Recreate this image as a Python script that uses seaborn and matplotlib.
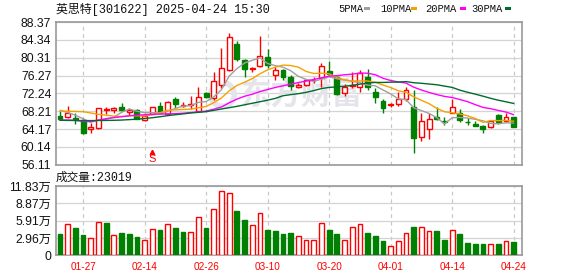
import numpy as np
import pandas as pd
import matplotlib
matplotlib.use("Agg")
import matplotlib.pyplot as plt
from matplotlib.patches import Rectangle
import seaborn as sns

# ---------------- data ----------------
dates = ["01-22", "01-23", "01-24", "01-27", "02-05", "02-06", "02-07", "02-10", "02-11", "02-12",
         "02-13", "02-14", "02-17", "02-18", "02-19", "02-20", "02-21", "02-24", "02-25", "02-26",
         "02-27", "02-28", "03-03", "03-04", "03-05", "03-06", "03-07", "03-10", "03-11", "03-12",
         "03-13", "03-14", "03-17", "03-18", "03-19", "03-20", "03-21", "03-24", "03-25", "03-26",
         "03-27", "03-28", "03-31", "04-01", "04-02", "04-03", "04-07", "04-08", "04-09", "04-10",
         "04-11", "04-14", "04-15", "04-16", "04-17", "04-18", "04-21", "04-22", "04-23", "04-24"]

opens = [67.12, 66.96, 66.73, 66.21, 64.11, 64.34, 68.54, 68.47, 69.08, 68.09,
         68.47, 66.21, 67.57, 69.38, 67.50, 70.89, 69.38, 69.55, 68.32, 72.25,
         71.12, 74.13, 77.52, 83.40, 79.78, 77.74, 78.31, 80.39, 76.32, 77.52,
         76.00, 73.74, 74.13, 75.19, 75.71, 77.29, 75.87, 72.25, 74.01, 73.74,
         75.87, 72.61, 70.51, 69.60, 69.94, 70.85, 69.08, 62.44, 64.11, 66.96,
         65.99, 67.91, 67.80, 65.87, 65.31, 64.86, 64.52, 67.35, 66.06, 66.89]
closes = [66.44, 67.73, 66.44, 63.20, 64.70, 68.86, 68.70, 68.99, 68.47, 68.40,
          66.37, 67.12, 69.08, 67.86, 70.35, 69.76, 69.67, 69.72, 71.48, 71.34,
          74.96, 77.90, 84.98, 79.94, 77.74, 77.97, 80.61, 78.65, 77.52, 76.00,
          74.01, 74.24, 75.26, 75.32, 78.42, 76.61, 72.09, 73.74, 74.13, 76.77,
          73.74, 71.34, 69.04, 69.72, 71.07, 72.93, 62.08, 65.92, 66.44, 66.37,
          65.87, 69.08, 66.21, 65.72, 64.97, 64.22, 66.10, 65.76, 66.82, 64.70]
highs = [68.32, 69.38, 67.73, 66.60, 65.47, 68.93, 69.22, 69.08, 70.12, 68.86,
         68.70, 67.73, 69.26, 70.35, 70.58, 71.34, 70.35, 71.64, 73.61, 72.61,
         77.07, 82.42, 85.95, 84.14, 80.00, 78.26, 85.27, 82.20, 78.26, 77.74,
         76.39, 74.58, 75.55, 76.00, 79.03, 79.55, 76.16, 74.28, 77.13, 77.52,
         77.74, 73.45, 70.89, 70.06, 72.61, 73.74, 73.00, 67.73, 67.73, 69.26,
         66.89, 70.89, 68.63, 66.60, 66.10, 65.01, 66.21, 67.57, 67.80, 66.96]
lows = [66.21, 66.73, 65.31, 63.15, 63.20, 64.29, 67.57, 67.73, 68.36, 67.35,
        66.33, 66.10, 67.50, 67.80, 67.46, 68.86, 69.26, 68.63, 68.25, 71.19,
        70.73, 73.38, 77.29, 79.55, 76.00, 77.13, 78.13, 77.90, 75.26, 75.26,
        73.00, 73.56, 74.01, 74.51, 73.67, 76.39, 71.98, 71.64, 73.45, 72.61,
        73.00, 70.12, 67.86, 69.22, 69.38, 70.58, 58.82, 61.53, 62.03, 66.21,
        65.19, 67.86, 65.87, 65.15, 64.86, 63.20, 64.41, 65.31, 65.87, 64.56]
volumes = [3.64, 5.29, 4.67, 3.47, 2.90, 5.63, 5.52, 3.41, 3.81, 3.64,
           3.13, 2.62, 4.50, 4.32, 5.29, 4.67, 3.98, 3.98, 6.49, 4.67,
           7.85, 10.92, 10.58, 7.57, 6.03, 5.12, 7.17, 4.32, 4.15, 3.64,
           3.76, 3.24, 2.62, 2.62, 5.46, 4.32, 3.64, 2.62, 4.78, 5.29,
           3.81, 3.30, 2.45, 1.54, 2.39, 3.76, 4.84, 4.78, 4.15, 4.15,
           2.62, 4.32, 3.64, 2.11, 1.93, 1.93, 1.93, 1.93, 2.39, 2.30]

# moving-average values at the start of the window
ma5_head = [68.4, 67.9, 67.3, 66.5]
ma10_head = [68.25, 68.2, 68.15, 68.1, 67.8, 67.5, 67.3, 67.1, 67.0]
ma20_head = [66.2, 66.2, 66.15, 65.9, 65.85, 66.2, 66.5, 66.75, 66.95, 67.15,
             67.3, 67.4, 67.5, 67.55, 67.6, 67.65, 67.75, 67.9, 68.05]
ma30_head = [66.15, 66.12, 66.1, 66.08, 66.08, 66.1, 66.12, 66.15, 66.2, 66.3,
             66.4, 66.55, 66.73, 66.95, 67.2, 67.41, 67.6, 67.8, 67.95, 68.1,
             68.4, 68.7, 69.0, 69.3, 69.65, 70.0, 70.35, 70.7, 71.1]

price_ticks = ["56.11", "60.14", "64.17", "68.21", "72.24", "76.27", "80.31", "84.34", "88.37"]
vol_tick_vals = [0, 2.96, 5.91, 8.87, 11.83]
vol_tick_labels = ["0", "2.96万", "5.91万", "8.87万", "11.83万"]
xtick_labels = ["01-27", "02-14", "02-26", "03-10", "03-20", "04-01", "04-14", "04-24"]
title = "英思特[301622] 2025-04-24 15:30"
vol_title = "成交量:23019"
legend_names = ["5PMA", "10PMA", "20PMA", "30PMA"]
signal_date = "02-17"
watermark = "东方财富"

# ---------------- style ----------------
sns.set_style("white")
plt.rcParams["font.family"] = ["Liberation Sans", "Noto Sans CJK SC", "DejaVu Sans"]

RED = "#ff0000"
GREEN = "#008000"
MA_COLORS = ["#a0a0a0", "#f5a200", "#ff00ff", "#006b2e"]
GRID = "#d4d4d4"
FRAME = "#999999"
MONO_CJK = ["Liberation Mono", "Noto Sans CJK SC"]

W, H = 578, 276
fig = plt.figure(figsize=(W / 100, H / 100), dpi=100)
fig.patch.set_facecolor("white")

def fx(px):
    return px / W

def fy(py):
    return 1 - py / H

axp = fig.add_axes([fx(55.5), fy(164.7), fx(522) - fx(55.5), fy(22) - fy(164.7)])
axv = fig.add_axes([fx(55.5), fy(255.3), fx(522) - fx(55.5), fy(186) - fy(255.3)])

n = len(dates)
idx = np.arange(n)
o = np.array(opens)
c = np.array(closes)
h = np.array(highs)
l = np.array(lows)
v = np.array(volumes)
tick_pos = [dates.index(d) for d in xtick_labels]

# ---------------- price panel ----------------
# watermark (behind the marks)
axp.text(0.527, 0.495, watermark, transform=axp.transAxes, ha="center", va="center",
         fontsize=22, fontweight="bold", color="#e4e4ea", family=["Noto Sans CJK SC"], zorder=1)
axp.plot([0.357], [0.495], transform=axp.transAxes, marker="o", markersize=17,
         markerfacecolor="none", markeredgecolor="#e4e4ea", markeredgewidth=4, zorder=1)

up = c >= o
col = np.where(up, RED, GREEN)
axp.vlines(idx, l, h, colors=col, linewidth=1, zorder=3)
body_h = np.maximum(np.abs(c - o), 0.04)
axp.bar(idx, body_h, bottom=np.minimum(o, c), width=0.64,
        facecolor=np.where(up, "white", GREEN), edgecolor=col, linewidth=1, zorder=4)

cs = pd.Series(closes)
heads = [ma5_head, ma10_head, ma20_head, ma30_head]
for win, head, mc in zip([5, 10, 20, 30], heads, MA_COLORS):
    m = cs.rolling(win).mean()
    m.iloc[:len(head)] = head
    sns.lineplot(x=idx, y=m.values, ax=axp, color=mc, linewidth=1, zorder=5)

pv = [float(t) for t in price_ticks]
axp.set_ylim(pv[0], pv[-1])
axp.set_xlim(-0.585, n - 1 + 1.08)
axp.set_yticks(pv)
axp.set_yticklabels(price_ticks)
axp.set_xticks(tick_pos)
axp.set_xticklabels([])
axp.grid(axis="y", color=GRID, linewidth=0.9, linestyle="-")
axp.grid(axis="x", color="#c8c8c8", linewidth=0.9, linestyle=(0, (3, 3)))
axp.set_axisbelow(True)
axp.tick_params(axis="both", length=0, pad=3, labelsize=8.8, labelcolor="#111111")
for s in axp.spines.values():
    s.set_color(FRAME)
    s.set_linewidth(1.2)

# signal marker
si = dates.index(signal_date)
axp.text(si, 56.2, "S", ha="center", va="bottom", color=RED, fontsize=8, zorder=6)
axp.plot([si], [58.9], marker="^", markersize=3.2, color=RED, zorder=6)

# ---------------- volume panel ----------------
prev = np.r_[o[0], c[:-1]]
vup = c >= prev
vcol = np.where(vup, RED, GREEN)
axv.bar(idx, v, width=0.62, facecolor=np.where(vup, "white", GREEN),
        edgecolor=vcol, linewidth=1, zorder=3)
axv.set_ylim(0, vol_tick_vals[-1])
axv.set_xlim(axp.get_xlim())
axv.set_yticks(vol_tick_vals)
axv.set_yticklabels(vol_tick_labels)
axv.set_xticks(tick_pos)
axv.set_xticklabels(xtick_labels, color=RED, fontsize=7.2)
axv.grid(axis="y", color=GRID, linewidth=0.9, linestyle="-")
axv.grid(axis="x", color="#c8c8c8", linewidth=0.9, linestyle=(0, (3, 3)))
axv.set_axisbelow(True)
axv.tick_params(axis="y", length=0, pad=3, labelsize=8.8, labelcolor="#111111")
axv.tick_params(axis="x", length=0, pad=5)
for s in axv.spines.values():
    s.set_color(FRAME)
    s.set_linewidth(1.2)

# ---------------- texts ----------------
fig.text(fx(56), fy(9), title, ha="left", va="center", fontsize=8.6,
         family=MONO_CJK, color="#111111")
fig.text(fx(56), fy(177.5), vol_title, ha="left", va="center", fontsize=8.4,
         family=MONO_CJK, color="#111111")

leg_x = [338.3, 380.0, 425.7, 471.7]
box_x = [364.3, 411.0, 460.3, 504.7]
for name, tx, bx, mc in zip(legend_names, leg_x, box_x, MA_COLORS):
    fig.text(fx(tx), fy(8.5), name, ha="left", va="center", fontsize=7.6,
             family=["Liberation Mono"], color="#111111")
    fig.patches.append(Rectangle((fx(bx), fy(9.8)), 6 / W, 3 / H, transform=fig.transFigure,
                                 facecolor=mc, edgecolor="none"))

fig.savefig("out.png", dpi=100, facecolor="white")
